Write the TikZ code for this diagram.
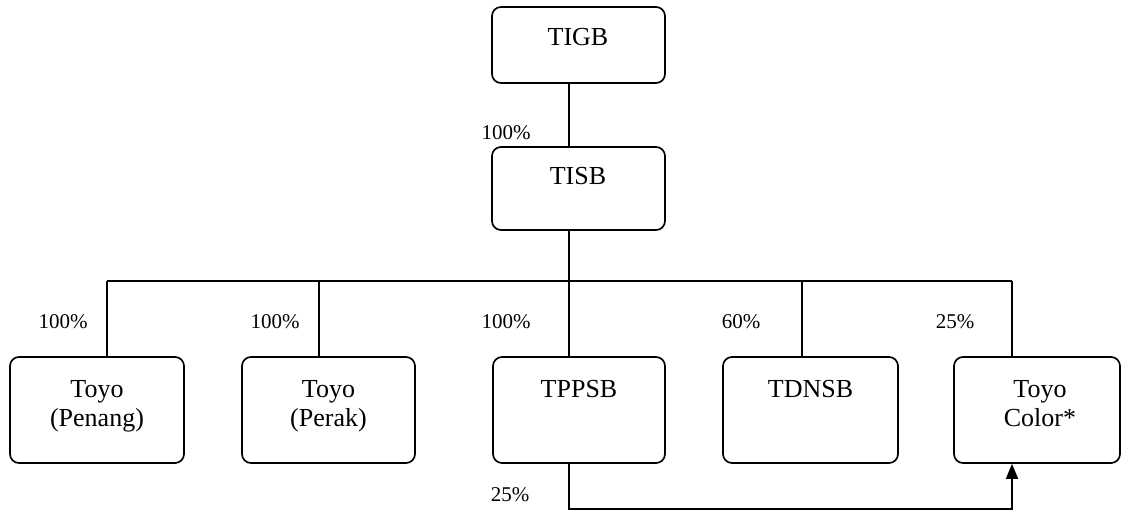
\documentclass[tikz,border=0pt]{standalone}
\usepackage{fontspec}
\setmainfont{Liberation Serif}
\usetikzlibrary{arrows.meta}
\begin{document}
\begin{tikzpicture}[x=1pt,y=-1pt,
  box/.style={draw, line width=1.7pt, rounded corners=9pt, inner sep=0pt},
  txt/.style={anchor=north, inner sep=0pt, align=center, font=\fontsize{26}{29}\selectfont},
  pct/.style={inner sep=0pt, font=\fontsize{21}{24}\selectfont},
  conn/.style={line width=1.6pt}]
\useasboundingbox (0,0) rectangle (1121,511);
% boxes
\node[box, minimum width=173pt, minimum height=76pt] (tigb) at (578.5,45) {};
\node[box, minimum width=173pt, minimum height=83pt] (tisb) at (578.5,188.5) {};
\node[box, minimum width=174pt, minimum height=106pt] (penang) at (97,410) {};
\node[box, minimum width=173pt, minimum height=106pt] (perak) at (328.5,410) {};
\node[box, minimum width=172pt, minimum height=106pt] (tppsb) at (579,410) {};
\node[box, minimum width=175pt, minimum height=106pt] (tdnsb) at (810.5,410) {};
\node[box, minimum width=166pt, minimum height=106pt] (color) at (1037,410) {};
% texts
\node[txt] (tigbt) at (578,28) {TIGB};
\node[txt] (tisbt) at (578,167) {TISB};
\node[txt] (penangt) at (97,380) {Toyo\\(Penang)};
\node[txt] (perakt) at (328.5,380) {Toyo\\(Perak)};
\node[txt] (tppsbt) at (579,380) {TPPSB};
\node[txt] (tdnsbt) at (810.5,380) {TDNSB};
\node[txt] (colort) at (1040,380) {Toyo\\Color*};
% connector coordinates
\coordinate (spine) at (569,281);
\coordinate (dA) at (107,281);
\coordinate (dB) at (319,281);
\coordinate (dD) at (802,281);
\coordinate (dE) at (1012,281);
\coordinate (low) at (569,509);
% connectors
\draw[conn] (tigb.south -| spine) -- (tisb.north -| spine);
\draw[conn] (tisb.south -| spine) -- (spine);
\draw[conn] (dA) -- (dE);
\draw[conn] (dA) -- (dA |- penang.north);
\draw[conn] (dB) -- (dB |- perak.north);
\draw[conn] (spine) -- (spine |- tppsb.north);
\draw[conn] (dD) -- (dD |- tdnsb.north);
\draw[conn] (dE) -- (dE |- color.north);
\draw[conn, -{Triangle[length=15pt,width=12pt]}] (spine |- tppsb.south) -- (low) -| (dE |- color.south);
% percentages
\node[pct] (p0) at (506,133) {100\%};
\node[pct] (p1) at (63,322) {100\%};
\node[pct] (p2) at (275,322) {100\%};
\node[pct] (p3) at (506,322) {100\%};
\node[pct] (p4) at (741,322) {60\%};
\node[pct] (p5) at (955,322) {25\%};
\node[pct] (p6) at (510,495) {25\%};
\end{tikzpicture}
\end{document}
